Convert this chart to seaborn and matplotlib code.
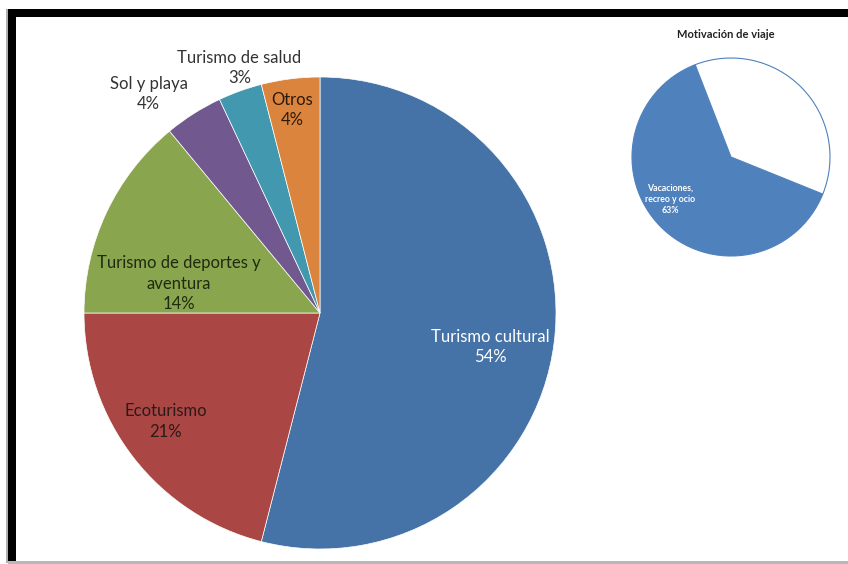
import matplotlib
matplotlib.use("Agg")
import matplotlib.pyplot as plt
from matplotlib.patches import Rectangle
import seaborn as sns

# Tipos de turismo (gráfico principal)
categorias = ["Turismo cultural", "Ecoturismo", "Turismo de deportes y\naventura",
              "Sol y playa", "Turismo de salud", "Otros"]
porcentajes = [54, 21, 14, 4, 3, 4]

# Motivación de viaje (gráfico secundario)
motivos = ["Vacaciones,\nrecreo y ocio", ""]
motivo_pct = [63, 37]
titulo_motivo = "Motivación de viaje"

sns.set_theme(style="white")
plt.rcParams["font.family"] = ["Lato", "DejaVu Sans"]

colores = ["#4572A7", "#AA4643", "#89A54E", "#71588F", "#4198AF", "#DB843D"]

W, H = 848, 564
fig = plt.figure(figsize=(W / 100, H / 100), dpi=100)
fig.patch.set_facecolor("white")


def px_axes(cx, cy, r):
    """Square axes centred on a pixel position (y measured from the top)."""
    return fig.add_axes([(cx - r) / W, (H - cy - r) / H, 2 * r / W, 2 * r / H])


# ---- main pie ----
ax = px_axes(320, 313, 236)
wedges, _ = ax.pie(porcentajes, colors=colores, startangle=90, counterclock=False,
                   radius=1.0, wedgeprops=dict(edgecolor="white", linewidth=0.5))
ax.set_xlim(-1, 1)
ax.set_ylim(-1, 1)
ax.set_aspect("equal")
ax.axis("off")

# label placement (axes data units) and text colour
pos_etiquetas = [(0.722, -0.145), (-0.654, -0.46), (-0.599, 0.125),
                 (-0.726, 0.928), (-0.342, 1.038), (-0.118, 0.86)]
col_texto = ["white", "#2b1a1a", "#1f2a10", "#333333", "#333333", "#2a1a0a"]
for nombre, v, (x, y), c in zip(categorias, porcentajes, pos_etiquetas, col_texto):
    ax.text(x, y, f"{nombre}\n{v}%", ha="center", va="center", fontsize=12,
            color=c, linespacing=1.32, clip_on=False)

# ---- small pie ----
ax2 = px_axes(731, 157, 99)
ax2.pie(motivo_pct, colors=["#4F81BD", "white"], startangle=-22, counterclock=False,
        radius=1.0, wedgeprops=dict(edgecolor="#4F81BD", linewidth=0.8))
ax2.set_xlim(-1, 1)
ax2.set_ylim(-1, 1)
ax2.set_aspect("equal")
ax2.axis("off")
ax2.text(-0.615, -0.43, f"{motivos[0]}\n{motivo_pct[0]}%", ha="center", va="center",
         fontsize=6.3, color="white", fontweight="bold", linespacing=1.3)
fig.text(726 / W, 1 - 34 / H, titulo_motivo, ha="center", va="center",
         fontsize=8, fontweight="bold", color="#222222")

# ---- frame ----
def px_rect(x0, y0, x1, y1, color):
    fig.add_artist(Rectangle((x0 / W, 1 - y1 / H), (x1 - x0) / W, (y1 - y0) / H,
                             transform=fig.transFigure, facecolor=color,
                             edgecolor="none", zorder=10))

px_rect(8, 9, W, 17, "black")
px_rect(8, 9, 16, 563, "black")
px_rect(6, 9, 8, 563, "#b0b0b0")
px_rect(8, 561, W, 564, "#b8b8b8")

fig.savefig("out.png", dpi=100, facecolor="white")
